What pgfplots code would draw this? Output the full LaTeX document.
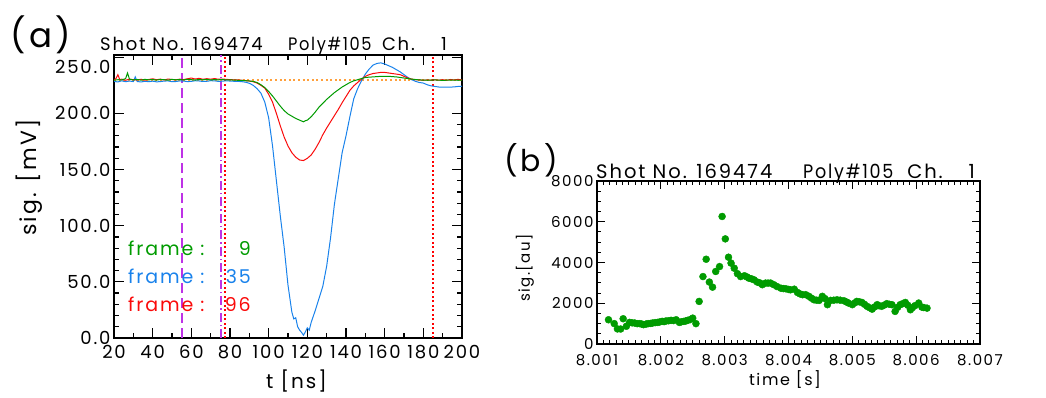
\documentclass[border=0pt]{standalone}
\usepackage{fontspec}
\setmainfont{Poppins}[LetterSpace=10]
\usepackage{pgfplots}
\pgfplotsset{compat=1.18}
\definecolor{cgreen}{RGB}{0,155,0}
\definecolor{cblue}{RGB}{25,130,235}
\definecolor{cred}{RGB}{250,10,10}
\definecolor{cmag}{RGB}{190,50,230}
\definecolor{corange}{RGB}{255,160,60}
\newcommand{\fs}[1]{\fontsize{#1}{#1}\selectfont}
\begin{document}
\begin{tikzpicture}[x=1pt,y=1pt]
\path[use as bounding box] (0,0) rectangle (1046,397);
% ---------------- panel (a)
\begin{axis}[
  at={(114pt,59pt)}, anchor=south west,
  width=348pt, height=283pt, scale only axis,
  xmin=20, xmax=200, ymin=0, ymax=252,
  xtick={20,40,60,80,100,120,140,160,180,200},
  xticklabels={20,40,60,80,100,120,140,160,180,200},
  minor x tick num=1,
  ytick={0,50,100,150,200},
  yticklabels={0.0,50.0,100.0,150.0,200.0},
  extra y ticks={250}, extra y tick labels={250.0},
  extra y tick style={yticklabel style={yshift=-10pt}},
  minor y tick num=4,
  tick align=inside,
  major tick length=10pt, minor tick length=5pt,
  every tick/.style={black, line width=1.2pt},
  axis line style={line width=2.6pt},
  tick label style={font=\fs{18}},
  xticklabel style={yshift=-4pt},
  clip=true,
]
\addplot[color=corange, line width=2.4pt, dash pattern=on 2pt off 2.6pt] coordinates {(20,230) (200,230)};
\addplot[color=cmag, line width=2pt, dash pattern=on 10pt off 5pt] coordinates {(55,0) (55,252)};
\addplot[color=cmag, line width=2pt, dash pattern=on 9pt off 3pt on 1.5pt off 3pt] coordinates {(75.2,0) (75.2,252)};
\addplot[color=red, line width=1.8pt, dash pattern=on 2pt off 2.5pt] coordinates {(77.4,0) (77.4,252)};
\addplot[color=red, line width=1.8pt, dash pattern=on 2pt off 2.5pt] coordinates {(185.2,0) (185.2,252)};
% blue, frame 35
\addplot[color=cblue, line width=1pt] coordinates {
(20,228.5)(22,228)(24,229)(26,228.2)(28,228.8)(30,228.3)(31,232.5)(32,228.4)(34,228)(36,228.6)(38,228.2)(40,228.7)(42,228.1)(44,228.3)(46,228.8)(48,228.9)(50,228.2)(52,228.4)(54,228.9)(56,228.8)(58,228.3)(60,228.5)(62,229.1)(64,228.9)(66,228.4)(68,228.6)(70,229.1)(72,229)(74,228.5)(76,228.7)(78,229)(80,228.8)(82,228.6)(84,228.5)(86,228.3)(88,227.8)(90,226.8)(92,225)(94,222)(96,218)(98,210)(100,196)(102,171)(104,140)(106,109)(108,81)(110,47)(111,35)(112,23)(113,17)(114,18)(115,10)(116,7)(117,5)(118,2.5)(119,5.5)(120,9)(121,7)(122,14)(124,24)(126,35)(128,46)(130,64)(132,89)(134,119)(136,142)(138,165)(140,180)(142,197)(144,213)(146,222)(148,229)(150,235)(152,239.5)(154,243)(156,244.5)(158,245)(160,244)(162,242.5)(164,241)(166,239)(168,237)(170,234.5)(172,232)(174,230)(176,228.5)(178,227.5)(180,227)(182,225.5)(184,224.5)(186,224)(188,223.5)(190,223.3)(192,223.5)(194,223.4)(196,223.6)(198,224)(200,224.2)};
% red, frame 96
\addplot[color=cred, line width=1pt] coordinates {
(20,230)(21,231)(22,234.5)(23,230)(24,230.5)(26,229.5)(28,230.5)(30,230)(32,229.8)(34,230.4)(36,229.6)(38,230.2)(40,230.8)(42,230)(44,230.5)(46,229.8)(48,230.6)(50,230.2)(52,229.9)(54,230.5)(56,230.1)(58,230.8)(60,231.5)(62,230.6)(64,231.2)(66,230.4)(68,230.9)(70,230.5)(72,231)(74,230.4)(76,230.6)(78,230.3)(80,230.1)(82,229.9)(84,229.8)(86,229.5)(88,229.2)(90,228.8)(92,228.2)(94,227)(96,225)(98,222.5)(100,217)(102,210)(104,200)(106,189)(108,179)(110,171)(112,165)(114,161)(116,158.5)(118,158)(120,160)(122,163)(124,168)(126,174)(128,181)(130,187)(132,192.5)(134,198)(136,203.5)(138,209.5)(140,215)(142,220.5)(144,224.5)(146,227.5)(148,230.5)(150,233)(152,234.5)(154,235.5)(156,236)(158,236.5)(160,236.5)(162,236)(164,235.5)(166,235)(168,234.5)(170,233)(172,231.5)(174,230.5)(176,230)(178,229.8)(180,229.5)(182,229.8)(184,229.5)(186,229.9)(188,229.6)(190,230)(192,229.5)(194,230.2)(196,229.8)(198,230.3)(200,229.8)};
% green, frame 9
\addplot[color=cgreen, line width=1pt] coordinates {
(20,229.5)(22,230)(24,229.8)(26,231)(27,236)(28,230.5)(30,229.8)(32,230.2)(34,229.6)(36,230.3)(38,229.9)(40,230.1)(42,229.7)(44,230.2)(46,230)(48,229.6)(50,230.3)(52,229.9)(54,230.1)(56,229.8)(58,230.4)(60,230)(62,229.7)(64,230.2)(66,229.9)(68,230.3)(70,229.8)(72,230.1)(74,229.9)(76,230.2)(78,229.8)(80,229.9)(82,229.6)(84,229.5)(86,229.4)(88,229.1)(90,228.9)(92,228.5)(94,227.5)(96,225.5)(98,223)(100,219.5)(102,215.5)(104,211)(106,206.5)(108,202.5)(110,199.5)(112,197.5)(114,195.5)(116,194)(118,192.5)(119,193.5)(120,194)(122,197)(124,201)(126,205.5)(128,209)(130,212.5)(132,215.5)(134,218.5)(136,221)(138,223.5)(140,225.5)(142,227.5)(144,229)(146,230)(148,231)(150,232)(154,232.5)(158,233)(162,233)(166,232.5)(170,231.5)(174,230.5)(178,229.8)(182,229.5)(186,229.8)(190,229.4)(194,229.7)(198,229.5)(200,229.6)};
\end{axis}
% labels panel (a)
\node[font=\fs{34}] at (41,362) {(a)};
\node[font=\fs{18}, anchor=base west, inner sep=0] at (100,346.5) {Shot No. 169474};
\node[font=\fs{18}, anchor=base west, inner sep=0] at (288,346.5) {\scalebox{0.9}[1]{Poly\#105}};
\node[font=\fs{18}, anchor=base east, inner sep=0] at (415,346.5) {Ch.};
\node[font=\fs{18}, anchor=base east, inner sep=0] at (447,346.5) {1};
\node[font=\fs{22}, rotate=90] at (29,219.5) {sig. [mV]};
\node[font=\fs{20}] at (296.5,16) {t [ns]};
\node[font=\fs{19}, anchor=base west, inner sep=0, text=cgreen] at (128,142) {frame :};
\node[font=\fs{19}, anchor=base east, inner sep=0, text=cgreen] at (251,142) {9};
\node[font=\fs{19}, anchor=base west, inner sep=0, text=cblue] at (128,113.7) {frame :};
\node[font=\fs{19}, anchor=base east, inner sep=0, text=cblue] at (251,113.7) {35};
\node[font=\fs{19}, anchor=base west, inner sep=0, text=cred] at (128,86) {frame :};
\node[font=\fs{19}, anchor=base east, inner sep=0, text=cred] at (251,86) {96};
% ---------------- panel (b)
\begin{axis}[
  at={(597pt,53pt)}, anchor=south west,
  width=383pt, height=163pt, scale only axis,
  xmin=8.001, xmax=8.007, ymin=0, ymax=8000,
  xtick={8.001,8.002,8.003,8.004,8.005,8.006,8.007},
  xticklabels={8.001,8.002,8.003,8.004,8.005,8.006,8.007},
  scaled x ticks=false, scaled y ticks=false,
  minor x tick num=9,
  ytick={0,2000,4000,6000,8000},
  yticklabels={0,2000,4000,6000,8000},
  minor y tick num=3,
  tick align=inside,
  major tick length=8pt, minor tick length=4pt,
  every tick/.style={black, line width=0.9pt},
  axis line style={line width=1.5pt},
  tick label style={font=\fs{15}},
  xticklabel style={yshift=-7pt},
]
\addplot[only marks, mark=*, mark size=3.5pt, color=cgreen, mark options={draw=cgreen, fill=cgreen}] coordinates {
(8.00118,1190)(8.00127,1000)(8.00132,740)(8.00137,735)(8.00141,1240)(8.00146,870)(8.00151,1060)(8.00155,1040)(8.00159,1030)(8.00163,1000)(8.00167,1000)(8.00170,980)(8.00173,950)(8.00177,980)(8.00180,1000)(8.00184,1010)(8.00187,1030)(8.00191,1050)(8.00195,1060)(8.00198,1080)(8.00202,1110)(8.00205,1100)(8.00208,1130)(8.00212,1140)(8.00216,1160)(8.00220,1150)(8.00224,1190)(8.00229,1060)(8.00232,1090)(8.00236,1110)(8.00239,1130)(8.00242,1160)(8.00246,1200)(8.00250,1270)(8.00255,1000)
(8.00260,2090)(8.00266,3310)(8.00271,4160)(8.00276,3040)(8.00281,2790)(8.00286,3560)(8.00292,3800)(8.00296,6260)(8.00301,5160)(8.00306,4260)(8.00310,3970)(8.00315,3720)(8.00320,3450)(8.00325,3310)(8.00331,3350)(8.00335,3290)(8.00338,3230)(8.00342,3200)(8.00346,3150)(8.00351,3040)(8.00355,3000)(8.00359,2910)(8.00364,2990)(8.00368,2990)(8.00372,2990)(8.00377,2910)(8.00382,2820)(8.00388,2740)(8.00392,2720)(8.00396,2710)(8.00400,2680)(8.00403,2660)(8.00409,2690)(8.00414,2530)(8.00418,2460)(8.00422,2420)(8.00427,2420)(8.00432,2340)(8.00436,2250)(8.00440,2170)(8.00444,2150)(8.00448,2140)(8.00453,2340)(8.00457,2230)
(8.00461,1930)(8.00466,2140)(8.00471,2150)(8.00476,2170)(8.00481,2150)(8.00487,2120)(8.00491,2060)(8.00494,2010)(8.00500,1930)(8.00504,2020)(8.00507,2090)(8.00511,2070)(8.00515,2040)(8.00519,1950)(8.00523,1850)(8.00527,1780)(8.00531,1710)(8.00535,1820)(8.00539,1930)(8.00542,1880)(8.00546,1850)(8.00550,1910)(8.00554,1980)(8.00558,1950)(8.00562,1930)(8.00567,1600)(8.00571,1800)(8.00575,1930)(8.00579,1980)(8.00583,2040)(8.00587,1900)(8.00591,1680)(8.00594,1780)(8.00598,1880)(8.00604,2010)(8.00609,1810)(8.00612,1790)(8.00617,1760)};
\end{axis}
% labels panel (b)
\node[font=\fs{30}] at (531,237) {(b)};
\node[font=\fs{19.5}, anchor=base west, inner sep=0] at (596,218.7) {Shot No. 169474};
\node[font=\fs{19.5}, anchor=base west, inner sep=0] at (803,218.7) {\scalebox{0.9}[1]{Poly\#105}};
\node[font=\fs{19.5}, anchor=base east, inner sep=0] at (943,218.7) {Ch.};
\node[font=\fs{19.5}, anchor=base east, inner sep=0] at (975,218.7) {1};
\node[font=\fs{15}, rotate=90] at (525,129) {sig.[au]};
\node[font=\fs{16}] at (785,17) {time [s]};
\end{tikzpicture}
\end{document}
